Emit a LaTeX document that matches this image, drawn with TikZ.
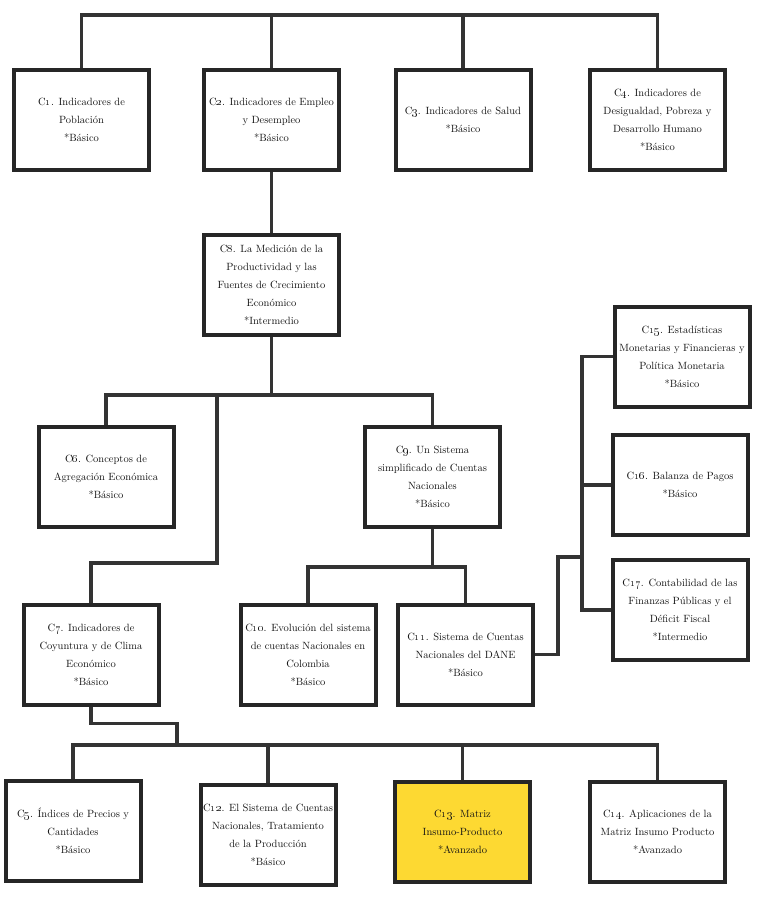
\documentclass[tikz,border=0pt]{standalone}
\usepackage{tikz}

\definecolor{boxline}{RGB}{38,38,38}
\definecolor{linkline}{RGB}{51,51,51}
\definecolor{matrizyellow}{RGB}{253,217,50}
\newcommand{\cnum}[1]{C\oldstylenums{#1}.}

\begin{document}
\begin{tikzpicture}
[x=1pt,y=-1pt,%
  box/.style={shape=rectangle,draw=boxline,line width=4pt,fill=white,%
    minimum width=135pt,minimum height=100pt,inner sep=2pt,align=center,%
    text=black!92,font=\fontsize{10.5}{18}\selectfont},%
  link/.style={draw=linkline,line width=3.6pt}]
\fill[white] (0,0) rectangle (763,900);
\useasboundingbox (0,0) rectangle (763,900);
% bus heights
\coordinate (bustop) at (0,15);
\coordinate (busmid) at (0,395);
\coordinate (buscn) at (0,567);
\coordinate (buslow) at (0,745);
% top row
\node[box] (c1) at (81.5,119.5) {\cnum{1} Indicadores de\\Población\\*Básico};
\node[box] (c2) at (271.5,119.5) {\cnum{2} Indicadores de Empleo\\y Desempleo\\*Básico};
\node[box] (c3) at (463,119.5) {\cnum{3} Indicadores de Salud\\*Básico};
\node[box] (c4) at (657.5,119.5) {\cnum{4} Indicadores de\\Desigualdad, Pobreza y\\Desarrollo Humano\\*Básico};
% middle
\node[box] (c8) at (271.5,284.5) {\cnum{8} La Medición de la\\Productividad y las\\Fuentes de Crecimiento\\Económico\\*Intermedio};
\node[box] (c6) at (106,476.5) {\cnum{6} Conceptos de\\Agregación Económica\\*Básico};
\node[box] (c9) at (432.5,476.5) {\cnum{9} Un Sistema\\simplificado de Cuentas\\Nacionales\\*Básico};
\node[box] (c7) at (91,654.5) {\cnum{7} Indicadores de\\Coyuntura y de Clima\\Económico\\*Básico};
\node[box] (c10) at (308,654.5) {\cnum{10} Evolución del sistema\\de cuentas Nacionales en\\Colombia\\*Básico};
\node[box] (c11) at (465.5,654.5) {\cnum{11} Sistema de Cuentas\\Nacionales del DANE\\*Básico};
% right column
\node[box] (c15) at (682,356.5) {\cnum{15} Estadísticas\\Monetarias y Financieras y\\Política Monetaria\\*Básico};
\node[box] (c16) at (680,485) {\cnum{16} Balanza de Pagos\\*Básico};
\node[box] (c17) at (680,610) {\cnum{17} Contabilidad de las\\Finanzas Públicas y el\\Déficit Fiscal\\*Intermedio};
% bottom row
\node[box] (c5) at (73,831) {\cnum{5} Índices de Precios y\\Cantidades\\*Básico};
\node[box] (c12) at (268,835) {\cnum{12} El Sistema de Cuentas\\Nacionales, Tratamiento\\de la Producción\\*Básico};
\node[box,fill=matrizyellow] (c13) at (462.5,831.5) {\cnum{13} Matriz\\Insumo-Producto\\*Avanzado};
\node[box] (c14) at (657.5,831.5) {\cnum{14} Aplicaciones de la\\Matriz Insumo Producto\\*Avanzado};
% elbows
\coordinate (j7) at (217,395);
\coordinate (k7) at (217,563);
\coordinate (j5) at (177,745);
\coordinate (r1) at (558,557);
\coordinate (sp) at (582,485);
% connectors
\draw[link] (c1.north) -- (c1.north |- bustop) -| (c4.north);
\draw[link] (c2.north) -- (c2.north |- bustop);
\draw[link] (c3.north) -- (c3.north |- bustop);
\draw[link] (c2.south) -- (c8.north);
\draw[link] (c8.south) -- (c8.south |- busmid);
\draw[link] (c6.north) -- (c6.north |- busmid) -| (c9.north);
\draw[link] (j7) -- (k7) -| (c7.north);
\draw[link] (c9.south) -- (c9.south |- buscn);
\draw[link] (c10.north) -- (c10.north |- buscn) -| (c11.north);
\draw[link] (c11.east) -| (r1) -| (sp);
\draw[link] (c15.west) -| (sp) |- (c17.west);
\draw[link] (c16.west) -- (sp);
\draw[link] (c7.south) -- ++(0,17) -| (j5);
\draw[link] (c5.north) -- (c5.north |- buslow) -| (c14.north);
\draw[link] (c12.north) -- (c12.north |- buslow);
\draw[link] (c13.north) -- (c13.north |- buslow);
\end{tikzpicture}
\end{document}
